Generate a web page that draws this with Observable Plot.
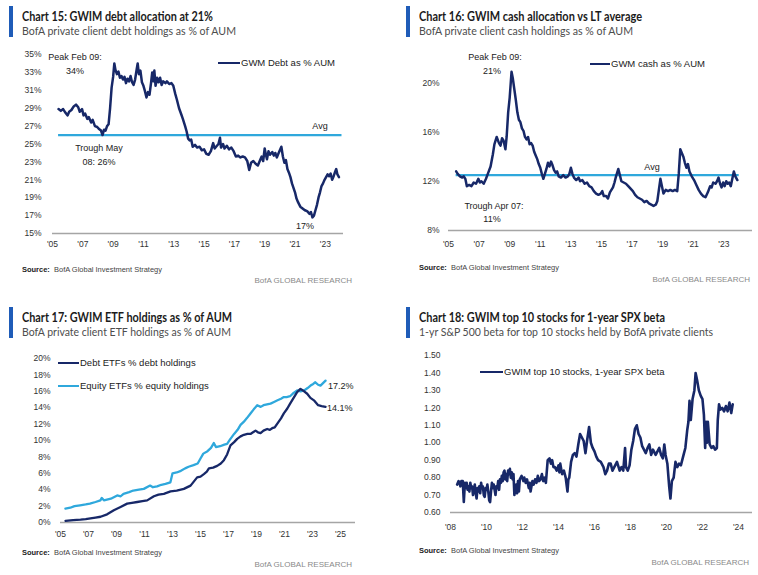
<!DOCTYPE html>
<html><head><meta charset="utf-8">
<script src="https://cdn.jsdelivr.net/npm/d3@7"></script>
<script src="https://cdn.jsdelivr.net/npm/@observablehq/plot@0.6"></script>
<style>
html,body{margin:0;padding:0;background:#fff;}
#page{position:relative;width:758px;height:575px;overflow:hidden;background:#fff;font-family:"Liberation Sans",Arial,sans-serif;}
.t{position:absolute;white-space:nowrap;}
.plot{position:absolute;}
</style></head><body><div id="page"></div>
<script>
// ---------- Chart 15: debt % AUM ----------
const debtYears = [2005.40,2005.55,2005.70,2005.85,2006.00,2006.10,2006.25,2006.40,2006.55,2006.70,2006.80,2006.95,2007.05,2007.15,2007.30,2007.40,2007.55,2007.65,2007.80,2007.95,2008.05,2008.20,2008.30,2008.40,2008.50,2008.60,2008.70,2008.80,2008.90,2009.00,2009.08,2009.15,2009.25,2009.35,2009.45,2009.55,2009.65,2009.75,2009.85,2009.95,2010.05,2010.15,2010.25,2010.35,2010.45,2010.55,2010.62,2010.70,2010.80,2010.90,2011.00,2011.10,2011.20,2011.30,2011.40,2011.50,2011.58,2011.65,2011.72,2011.80,2011.90,2012.00,2012.10,2012.20,2012.30,2012.45,2012.55,2012.70,2012.85,2012.97,2013.10,2013.20,2013.35,2013.50,2013.60,2013.75,2013.85,2013.95,2014.05,2014.15,2014.25,2014.40,2014.55,2014.70,2014.85,2015.00,2015.15,2015.30,2015.45,2015.60,2015.70,2015.85,2015.95,2016.05,2016.12,2016.25,2016.35,2016.50,2016.65,2016.80,2016.95,2017.10,2017.25,2017.40,2017.55,2017.70,2017.85,2017.98,2018.10,2018.25,2018.40,2018.55,2018.70,2018.80,2018.90,2019.00,2019.08,2019.15,2019.25,2019.35,2019.50,2019.60,2019.70,2019.80,2019.90,2020.00,2020.10,2020.20,2020.30,2020.40,2020.50,2020.60,2020.70,2020.80,2020.90,2021.00,2021.10,2021.20,2021.35,2021.50,2021.65,2021.80,2021.95,2022.05,2022.15,2022.25,2022.35,2022.45,2022.55,2022.65,2022.75,2022.85,2022.95,2023.05,2023.15,2023.25,2023.35,2023.45,2023.55,2023.65,2023.72,2023.80,2023.90];
const debtPct = [28.9,28.7,28.9,28.5,28.2,28.6,28.8,29.2,29.4,29.1,28.6,28.9,28.2,28.4,27.8,28.0,27.4,27.7,27.0,26.9,26.7,26.5,26.0,26.6,26.5,27.0,27.2,29.0,31.3,32.5,34.0,33.3,32.8,33.1,32.4,32.6,32.2,32.5,31.8,32.3,32.0,32.6,31.9,31.6,32.2,33.3,34.0,32.8,33.2,31.9,31.5,30.9,30.2,30.8,30.5,31.8,33.0,32.0,33.2,31.5,32.4,31.9,32.4,31.6,32.0,31.8,32.0,31.7,31.8,31.5,30.6,30.0,29.0,28.3,27.8,27.0,26.4,25.6,25.4,25.5,24.7,24.9,24.6,24.7,24.3,24.4,23.9,23.8,24.2,25.1,24.5,24.8,25.0,25.7,24.6,25.0,24.5,24.8,24.4,24.6,24.2,23.6,23.7,23.5,23.6,23.5,23.1,22.1,22.9,23.1,22.8,22.6,23.2,23.6,23.1,24.5,23.8,23.3,24.2,23.8,24.1,23.7,24.0,23.5,23.9,24.3,24.7,23.6,22.9,23.2,22.2,21.8,21.3,20.6,20.1,19.6,18.9,18.5,18.0,17.8,17.6,17.5,17.2,17.4,16.8,17.0,17.6,18.2,19.0,19.6,20.3,20.6,21.0,21.3,21.6,21.4,21.7,21.0,21.4,21.9,22.2,21.6,21.3];
const debtAvg = [{value: 26, from: 2005.4, to: 2024.1}];
const debtYTicks = [15,17,19,21,23,25,27,29,31,33,35];
const debtXTicks = [2005,2007,2009,2011,2013,2015,2017,2019,2021,2023];

// ---------- Chart 16: cash % AUM ----------
const cashYears = [2005.50,2005.60,2005.75,2005.90,2006.00,2006.10,2006.20,2006.35,2006.50,2006.65,2006.80,2006.95,2007.05,2007.15,2007.30,2007.45,2007.60,2007.75,2007.90,2008.00,2008.15,2008.30,2008.40,2008.50,2008.60,2008.72,2008.80,2008.90,2009.00,2009.12,2009.20,2009.30,2009.40,2009.50,2009.60,2009.70,2009.80,2009.90,2010.00,2010.10,2010.20,2010.30,2010.40,2010.50,2010.60,2010.70,2010.80,2010.90,2011.00,2011.10,2011.20,2011.30,2011.40,2011.50,2011.60,2011.70,2011.80,2011.90,2012.00,2012.10,2012.20,2012.35,2012.50,2012.65,2012.80,2012.90,2013.00,2013.10,2013.20,2013.35,2013.50,2013.60,2013.75,2013.90,2014.05,2014.20,2014.35,2014.50,2014.65,2014.80,2014.95,2015.05,2015.15,2015.30,2015.42,2015.55,2015.65,2015.75,2015.85,2015.95,2016.10,2016.20,2016.30,2016.45,2016.60,2016.75,2016.90,2017.05,2017.20,2017.35,2017.50,2017.65,2017.80,2017.95,2018.10,2018.25,2018.40,2018.55,2018.65,2018.75,2018.85,2018.95,2019.05,2019.20,2019.35,2019.50,2019.65,2019.80,2019.95,2020.05,2020.15,2020.25,2020.35,2020.45,2020.55,2020.65,2020.75,2020.90,2021.05,2021.20,2021.35,2021.50,2021.65,2021.80,2021.95,2022.10,2022.20,2022.30,2022.45,2022.55,2022.65,2022.75,2022.85,2022.95,2023.05,2023.15,2023.25,2023.35,2023.45,2023.55,2023.65,2023.75,2023.88];
const cashPct = [12.8,12.6,12.4,12.3,12.4,12.2,11.6,11.7,11.6,11.9,11.8,12.2,11.9,12.0,11.8,12.2,12.7,13.2,14.2,15.0,15.6,15.1,14.9,15.5,15.3,14.6,15.6,17.6,18.8,20.9,20.4,19.5,18.6,17.6,17.0,16.8,16.3,16.1,15.6,15.4,15.6,15.0,15.1,14.9,14.4,14.1,13.8,13.4,13.1,12.6,12.2,12.6,13.0,13.5,13.2,13.6,13.3,12.9,12.7,12.8,12.4,12.3,12.5,12.3,12.4,12.6,13.1,12.6,12.3,12.1,12.3,12.0,12.1,11.8,11.9,11.6,11.5,11.2,11.0,10.9,11.0,11.2,10.8,10.8,10.6,11.1,11.3,11.5,11.9,12.4,13.0,12.5,12.0,11.9,11.8,11.6,11.4,11.2,10.9,10.7,10.6,10.5,10.3,10.4,10.2,10.1,10.0,10.1,10.4,11.3,12.2,11.6,11.0,11.3,11.2,11.3,11.2,11.3,11.2,12.6,14.6,14.3,14.0,13.5,13.1,13.4,12.8,12.4,12.1,11.7,11.3,11.0,10.8,10.7,11.1,11.6,11.5,11.9,11.8,12.0,12.3,11.8,11.5,11.9,11.6,12.0,11.8,11.9,11.6,12.2,12.8,12.4,12.1];
const cashAvg = [{value: 12.5, from: 2005.5, to: 2024.0}];
const cashYTicks = [8,12,16,20];
const cashXTicks = [2005,2007,2009,2011,2013,2015,2017,2019,2021,2023];

// ---------- Chart 17: ETF holdings ----------
const eqEtfYears = [2005.35,2005.70,2006.00,2006.40,2006.80,2007.10,2007.50,2007.85,2007.95,2008.10,2008.60,2009.05,2009.30,2009.50,2009.90,2010.20,2010.60,2010.95,2011.40,2011.60,2011.90,2012.20,2012.50,2012.85,2013.00,2013.30,2013.60,2013.90,2014.15,2014.50,2014.80,2015.00,2015.20,2015.50,2015.75,2015.95,2016.10,2016.40,2016.70,2016.90,2017.10,2017.40,2017.65,2017.86,2018.10,2018.30,2018.57,2018.80,2019.05,2019.30,2019.50,2019.75,2020.00,2020.25,2020.50,2020.75,2020.95,2021.15,2021.40,2021.65,2021.90,2022.15,2022.40,2022.65,2022.86,2023.05,2023.20,2023.40,2023.57,2023.75,2023.93];
const eqEtfPct = [1.7,1.8,2.0,2.1,2.2,2.3,2.5,2.7,3.0,2.7,2.9,3.3,3.2,3.5,3.7,3.9,4.0,4.1,4.5,4.3,4.4,4.6,4.7,4.9,6.0,6.1,6.3,6.6,6.8,7.0,7.2,7.8,8.4,8.7,9.1,9.7,9.2,9.3,9.5,9.6,10.1,10.8,11.3,11.9,12.3,12.7,13.3,13.8,14.3,14.1,14.3,14.4,14.5,14.7,14.9,15.1,15.3,15.3,15.4,15.8,16.1,16.0,16.1,16.4,16.7,16.9,17.1,16.8,16.7,17.0,17.3];
const debtEtfYears = [2005.36,2005.90,2006.43,2006.80,2007.14,2007.50,2007.86,2008.33,2008.81,2009.29,2009.76,2010.10,2010.48,2010.85,2011.19,2011.67,2012.00,2012.38,2012.86,2013.30,2013.81,2014.29,2014.76,2015.00,2015.24,2015.45,2015.60,2015.90,2016.19,2016.45,2016.67,2016.90,2017.14,2017.40,2017.62,2017.86,2018.10,2018.35,2018.57,2018.75,2018.93,2019.10,2019.29,2019.50,2019.76,2019.95,2020.12,2020.30,2020.50,2020.75,2020.95,2021.20,2021.40,2021.65,2021.90,2022.14,2022.40,2022.62,2022.85,2023.10,2023.25,2023.40,2023.65,2023.93];
const debtEtfPct = [0.2,0.3,0.35,0.4,0.5,0.6,0.7,1.0,1.5,1.9,2.3,2.4,2.5,2.6,2.7,3.2,3.4,3.5,3.8,3.9,4.1,4.5,5.5,5.6,5.9,6.2,6.6,6.7,6.9,7.2,7.6,8.3,9.4,9.8,10.2,10.5,10.7,10.8,10.8,11.0,11.2,11.0,10.9,11.2,11.4,11.3,11.5,11.6,12.1,12.7,13.3,13.9,14.5,15.2,15.9,16.3,16.0,15.7,15.2,14.9,14.6,14.3,14.2,14.1];
const etfYTicks = [0,2,4,6,8,10,12,14,16,18,20];
const etfXTicks = [2005,2007,2009,2011,2013,2015,2017,2019,2021,2023,2025];

// ---------- Chart 18: top 10 stocks beta ----------
const betaYears = [2008.37,2008.45,2008.50,2008.55,2008.60,2008.68,2008.74,2008.80,2008.85,2008.90,2008.95,2009.00,2009.05,2009.10,2009.15,2009.20,2009.25,2009.30,2009.35,2009.40,2009.45,2009.50,2009.55,2009.60,2009.65,2009.70,2009.75,2009.80,2009.85,2009.90,2009.95,2010.00,2010.05,2010.10,2010.15,2010.20,2010.25,2010.30,2010.35,2010.40,2010.45,2010.50,2010.55,2010.60,2010.65,2010.70,2010.75,2010.80,2010.85,2010.90,2010.95,2011.00,2011.05,2011.10,2011.15,2011.20,2011.25,2011.30,2011.35,2011.40,2011.45,2011.50,2011.55,2011.60,2011.65,2011.70,2011.75,2011.80,2011.85,2011.95,2012.05,2012.10,2012.18,2012.25,2012.35,2012.40,2012.45,2012.55,2012.62,2012.70,2012.78,2012.85,2012.92,2013.00,2013.08,2013.15,2013.22,2013.30,2013.40,2013.50,2013.58,2013.65,2013.72,2013.80,2013.90,2014.00,2014.05,2014.10,2014.15,2014.20,2014.30,2014.40,2014.45,2014.50,2014.55,2014.60,2014.70,2014.80,2014.90,2015.00,2015.10,2015.20,2015.30,2015.40,2015.50,2015.60,2015.70,2015.80,2015.90,2016.00,2016.10,2016.20,2016.35,2016.50,2016.60,2016.70,2016.80,2016.90,2017.00,2017.10,2017.25,2017.40,2017.50,2017.60,2017.70,2017.75,2017.85,2017.95,2018.05,2018.15,2018.25,2018.35,2018.45,2018.55,2018.65,2018.75,2018.85,2018.95,2019.05,2019.15,2019.25,2019.40,2019.50,2019.60,2019.70,2019.80,2019.88,2019.95,2020.05,2020.15,2020.22,2020.30,2020.40,2020.50,2020.60,2020.70,2020.80,2020.95,2021.05,2021.15,2021.22,2021.28,2021.35,2021.45,2021.55,2021.62,2021.70,2021.80,2021.90,2022.00,2022.08,2022.15,2022.20,2022.25,2022.30,2022.40,2022.50,2022.60,2022.70,2022.80,2022.85,2022.92,2023.00,2023.10,2023.20,2023.30,2023.40,2023.50,2023.60,2023.68];
const betaVals = [0.76,0.78,0.77,0.75,0.78,0.78,0.66,0.77,0.74,0.77,0.73,0.75,0.72,0.77,0.74,0.75,0.70,0.73,0.76,0.71,0.68,0.74,0.72,0.75,0.71,0.77,0.74,0.75,0.70,0.69,0.74,0.73,0.76,0.72,0.67,0.66,0.72,0.77,0.74,0.76,0.73,0.70,0.75,0.74,0.78,0.73,0.79,0.77,0.81,0.78,0.83,0.84,0.79,0.82,0.78,0.84,0.82,0.85,0.80,0.83,0.79,0.82,0.70,0.74,0.76,0.71,0.78,0.72,0.79,0.81,0.78,0.80,0.77,0.79,0.74,0.77,0.72,0.78,0.76,0.79,0.77,0.81,0.78,0.79,0.82,0.78,0.80,0.77,0.90,0.91,0.88,0.90,0.86,0.86,0.84,0.87,0.83,0.88,0.85,0.82,0.84,0.80,0.76,0.72,0.79,0.80,0.89,0.93,0.94,0.92,0.99,1.05,1.03,1.01,0.94,1.02,1.09,1.00,0.97,0.95,0.92,0.90,0.89,0.86,0.82,0.84,0.88,0.88,0.84,0.86,0.89,0.84,0.86,0.84,0.97,0.86,0.84,0.87,0.96,1.01,1.08,1.10,1.05,1.03,0.98,0.96,0.94,0.97,0.99,0.93,0.96,0.93,0.95,0.97,0.93,0.91,0.99,0.93,0.88,0.75,0.68,0.78,0.80,0.89,0.86,0.88,0.87,0.93,0.97,1.07,1.12,1.24,1.13,1.25,1.30,1.40,1.36,1.30,1.27,1.25,1.16,0.97,1.12,1.00,1.12,0.99,0.97,0.98,0.96,0.97,1.13,1.22,1.19,1.20,1.18,1.21,1.18,1.23,1.17,1.22];
const betaYTicks = [0.6,0.7,0.8,0.9,1.0,1.1,1.2,1.3,1.4,1.5];
const betaXTicks = [2008,2010,2012,2014,2016,2018,2020,2022,2024];

// ---------- rendering ----------
const NAVY = "#172868", LIGHT = "#2fa8dc", AXIS = "#a5a5a5", BAR = "#1f5cb8";
const FONT = "'Liberation Sans', Arial, sans-serif";
const page = document.getElementById("page");
const zip = (xs, ys) => xs.map((t, i) => ({t, v: ys[i]}));
const yr = d => "'" + String(d).slice(2);
const pct = d => d + "%";

function panel({left, top, width, height, mL, mR, mT, mB, xDom, yDom, xTicks, yTicks, yFmt, xPad, yPad, marks}) {
  const svg = Plot.plot({
    width, height, marginLeft: mL, marginRight: mR, marginTop: mT, marginBottom: mB,
    style: {fontFamily: FONT, fontSize: "8.5px", color: "#333", background: "transparent", overflow: "visible"},
    x: {type: "linear", domain: xDom, ticks: xTicks, tickFormat: yr, tickSize: 0, tickPadding: xPad, label: null},
    y: {type: "linear", domain: yDom, ticks: yTicks, tickFormat: yFmt, tickSize: 0, tickPadding: yPad, label: null},
    marks
  });
  const div = document.createElement("div");
  div.className = "plot";
  div.style.left = left + "px"; div.style.top = top + "px";
  div.appendChild(svg);
  page.appendChild(div);
}

function text(str, x, y, {size = 9, weight = "normal", color = "#222", anchor = "start", font = FONT, w = null, html = false} = {}) {
  const el = document.createElement("div");
  el.className = "t";
  el.style.fontFamily = font; el.style.fontSize = size + "px"; el.style.lineHeight = size + "px";
  el.style.fontWeight = weight; el.style.color = color;
  if (html) el.innerHTML = str; else el.textContent = str;
  page.appendChild(el);
  let nat = el.getBoundingClientRect().width;
  if (w) { el.style.transformOrigin = "left top"; el.style.transform = `scaleX(${w / nat})`; nat = w; }
  const lx = anchor === "middle" ? x - nat / 2 : anchor === "end" ? x - nat : x;
  el.style.left = lx + "px"; el.style.top = (y - size / 2) + "px";
  return el;
}
function rect(x, y, w, h, color) {
  const el = document.createElement("div");
  el.style.cssText = `position:absolute;left:${x}px;top:${y}px;width:${w}px;height:${h}px;background:${color}`;
  page.appendChild(el);
}
function header(x, y, title, sub, tw, sw) {
  rect(x - 13, y - 10, 3.5, 31, BAR);
  text(title, x, y, {size: 13, weight: "bold", color: "#1b1b1b", font: "Lato, 'Liberation Sans', sans-serif", w: tw});
  text(sub, x, y + 15, {size: 12, color: "#4d4d4d", font: "Lato, 'Liberation Sans', sans-serif", w: sw});
}
function footer(x, y, rx, ry) {
  text("<b style='color:#222'>Source:</b>&nbsp; BofA Global Investment Strategy", x, y, {size: 8, color: "#444", html: true, w: 140});
  text("BofA GLOBAL RESEARCH", rx, ry, {size: 8, color: "#8a8a8a", anchor: "end"});
}
function legendLine(x1, x2, y, color, label) {
  rect(x1, y - 1.2, x2 - x1, 2.5, color);
  text(label, x2 + 1, y, {size: 9.5, color: "#222"});
}

// Chart 15
panel({left: 0, top: 40, width: 379, height: 215, mL: 52, mR: 36, mT: 14, mB: 22,
  xDom: [2005, 2024.2], yDom: [15, 35], xTicks: debtXTicks, yTicks: debtYTicks, yFmt: pct, xPad: 7, yPad: 11,
  marks: [
    Plot.ruleY([15], {stroke: AXIS, strokeWidth: 1.5}),
    Plot.ruleY(debtAvg, {y: "value", x1: "from", x2: "to", stroke: LIGHT, strokeWidth: 2.2}),
    Plot.line(zip(debtYears, debtPct), {x: "t", y: "v", stroke: NAVY, strokeWidth: 2.5})
  ]});
header(22, 16, "Chart 15: GWIM debt allocation at 21%", "BofA private client debt holdings as % of AUM", 191, 214);
legendLine(218, 240, 63, NAVY, "GWM Debt as % AUM");
text("Peak Feb 09:", 75, 57, {anchor: "middle"});
text("34%", 75, 71, {anchor: "middle"});
text("Avg", 320, 126, {anchor: "middle"});
text("Trough May", 99, 148, {anchor: "middle"});
text("08: 26%", 99, 162, {anchor: "middle"});
text("17%", 305, 226, {anchor: "middle"});
footer(22, 270, 352, 281);

// Chart 16
panel({left: 380, top: 40, width: 378, height: 215, mL: 68, mR: 6, mT: 30, mB: 25,
  xDom: [2005, 2024.87], yDom: [8, 21], xTicks: cashXTicks, yTicks: cashYTicks, yFmt: pct, xPad: 10, yPad: 9,
  marks: [
    Plot.ruleY([8], {stroke: AXIS, strokeWidth: 1.5}),
    Plot.ruleY(cashAvg, {y: "value", x1: "from", x2: "to", stroke: LIGHT, strokeWidth: 2.2}),
    Plot.line(zip(cashYears, cashPct), {x: "t", y: "v", stroke: NAVY, strokeWidth: 2.5})
  ]});
header(419, 16, "Chart 16: GWIM cash allocation vs LT average", "BofA private client cash holdings as % of AUM", 223, 214);
legendLine(590, 610, 64, NAVY, "GWM cash as % AUM");
text("Peak Feb 09:", 495, 57, {anchor: "middle"});
text("21%", 492, 71, {anchor: "middle"});
text("Avg", 652, 167, {anchor: "middle"});
text("Trough Apr 07:", 494, 206, {anchor: "middle"});
text("11%", 492, 219, {anchor: "middle"});
footer(419, 268, 750, 280);

// Chart 17
panel({left: 0, top: 330, width: 379, height: 215, mL: 60, mR: 24, mT: 28, mB: 23,
  xDom: [2005, 2026.07], yDom: [0, 20], xTicks: etfXTicks, yTicks: etfYTicks, yFmt: pct, xPad: 8, yPad: 10,
  marks: [
    Plot.ruleY([0], {stroke: AXIS, strokeWidth: 1.5}),
    Plot.line(zip(eqEtfYears, eqEtfPct), {x: "t", y: "v", stroke: LIGHT, strokeWidth: 2.3}),
    Plot.line(zip(debtEtfYears, debtEtfPct), {x: "t", y: "v", stroke: NAVY, strokeWidth: 2.3})
  ]});
header(22, 317, "Chart 17: GWIM ETF holdings as % of AUM", "BofA private client ETF holdings as % of AUM", 210, 209);
legendLine(58, 79, 363, NAVY, "Debt ETFs % debt holdings");
legendLine(58, 79, 386, LIGHT, "Equity ETFs % equity holdings");
text("17.2%", 328, 386);
text("14.1%", 327, 408);
footer(22, 553, 352, 565);

// Chart 18
panel({left: 380, top: 330, width: 378, height: 215, mL: 70, mR: 6, mT: 25, mB: 33,
  xDom: [2008, 2024.78], yDom: [0.6, 1.5], xTicks: betaXTicks, yTicks: betaYTicks, yFmt: d3.format(".2f"), xPad: 11, yPad: 10,
  marks: [
    Plot.ruleY([0.6], {stroke: AXIS, strokeWidth: 1.5}),
    Plot.line(zip(betaYears, betaVals), {x: "t", y: "v", stroke: NAVY, strokeWidth: 2.6})
  ]});
header(419, 317, "Chart 18: GWIM top 10 stocks for 1-year SPX beta", "1-yr S&P 500 beta for top 10 stocks held by BofA private clients", 246, 294);
legendLine(480, 503, 372, NAVY, "GWIM top 10 stocks, 1-year SPX beta");
footer(419, 551, 749, 563);
</script></body></html>
